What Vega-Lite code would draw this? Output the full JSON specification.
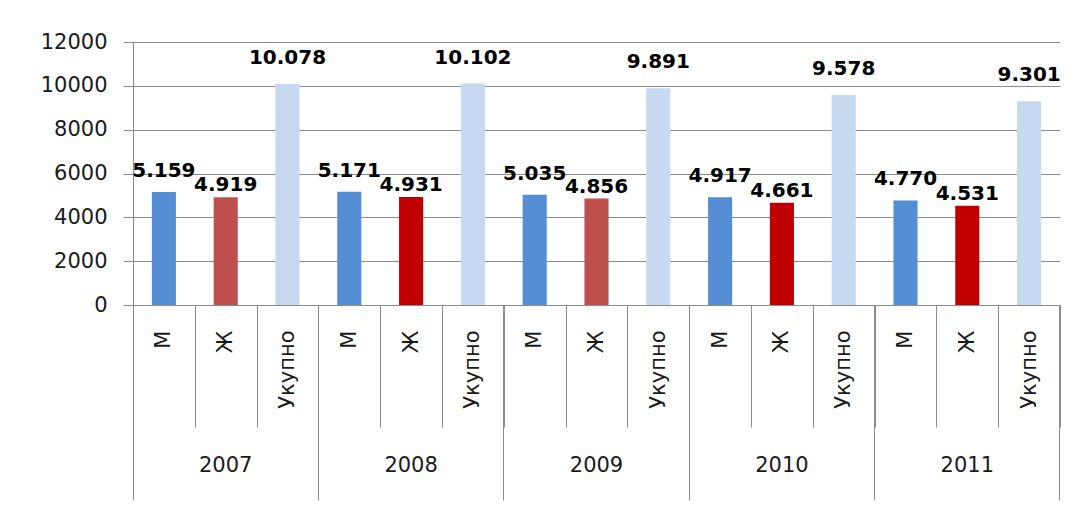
{
  "$schema": "https://vega.github.io/schema/vega-lite/v6.json",
  "width": 927,
  "height": 263,
  "autosize": {"type": "none"},
  "padding": {"left": 133, "top": 42, "right": 13, "bottom": 200},
  "background": "white",
  "config": {
    "view": {"stroke": null},
    "font": "DejaVu Sans",
    "locale": {"number": {"decimal": ",", "thousands": ".", "grouping": [3], "currency": ["", ""]}}
  },
  "data": {
    "values": [
      {"key": "2007|М", "year": "2007", "sex": "М", "value": 5159},
      {"key": "2007|Ж", "year": "2007", "sex": "Ж", "value": 4919},
      {"key": "2007|Укупно", "year": "2007", "sex": "Укупно", "value": 10078},
      {"key": "2008|М", "year": "2008", "sex": "М", "value": 5171},
      {"key": "2008|Ж", "year": "2008", "sex": "Ж", "value": 4931},
      {"key": "2008|Укупно", "year": "2008", "sex": "Укупно", "value": 10102},
      {"key": "2009|М", "year": "2009", "sex": "М", "value": 5035},
      {"key": "2009|Ж", "year": "2009", "sex": "Ж", "value": 4856},
      {"key": "2009|Укупно", "year": "2009", "sex": "Укупно", "value": 9891},
      {"key": "2010|М", "year": "2010", "sex": "М", "value": 4917},
      {"key": "2010|Ж", "year": "2010", "sex": "Ж", "value": 4661},
      {"key": "2010|Укупно", "year": "2010", "sex": "Укупно", "value": 9578},
      {"key": "2011|М", "year": "2011", "sex": "М", "value": 4770},
      {"key": "2011|Ж", "year": "2011", "sex": "Ж", "value": 4531},
      {"key": "2011|Укупно", "year": "2011", "sex": "Укупно", "value": 9301}
    ]
  },
  "resolve": {"axis": {"x": "independent", "y": "shared"}},
  "layer": [
    {
      "mark": {"type": "bar", "width": {"band": 0.39}},
      "encoding": {
        "x": {
          "field": "key", "type": "nominal",
          "scale": {
            "domain": ["2007|М","2007|Ж","2007|Укупно","2008|М","2008|Ж","2008|Укупно","2009|М","2009|Ж","2009|Укупно","2010|М","2010|Ж","2010|Укупно","2011|М","2011|Ж","2011|Укупно"],
            "paddingInner": 0, "paddingOuter": 0
          },
          "axis": {
            "orient": "bottom",
            "title": null,
            "labelExpr": "split(datum.value, '|')[1]",
            "labelAngle": 270,
            "labelAlign": "right",
            "labelBaseline": "middle",
            "labelFontSize": 21,
            "labelColor": "#1a1a1a",
            "labelPadding": -97,
            "tickBand": "extent",
            "tickSize": 122,
            "tickColor": "#8c8c8c",
            "domainColor": "#8c8c8c",
            "grid": false
          }
        },
        "y": {
          "field": "value", "type": "quantitative",
          "scale": {"domain": [0, 12000]},
          "axis": {
            "title": null,
            "values": [0, 2000, 4000, 6000, 8000, 10000, 12000],
            "format": "d",
            "labelFontSize": 21,
            "labelColor": "#1a1a1a",
            "labelPadding": 16,
            "tickSize": 10,
            "tickColor": "#8c8c8c",
            "domainColor": "#8c8c8c",
            "gridColor": "#8c8c8c",
            "grid": true
          }
        },
        "color": {
          "field": "key", "type": "nominal", "legend": null,
          "scale": {
            "domain": ["2007|М","2007|Ж","2007|Укупно","2008|М","2008|Ж","2008|Укупно","2009|М","2009|Ж","2009|Укупно","2010|М","2010|Ж","2010|Укупно","2011|М","2011|Ж","2011|Укупно"],
            "range": ["#558ED5","#C0504D","#C6D9F1","#558ED5","#C00000","#C6D9F1","#558ED5","#C0504D","#C6D9F1","#558ED5","#C00000","#C6D9F1","#558ED5","#C00000","#C6D9F1"]
          }
        }
      }
    },
    {
      "transform": [{"filter": "datum.sex === 'М'"}],
      "mark": {"type": "text", "fontWeight": "bold", "fontSize": 20, "baseline": "alphabetic", "dy": -15, "color": "#000000"},
      "encoding": {
        "x": {
          "field": "key", "type": "nominal",
          "axis": {
            "orient": "bottom",
            "title": null, "labels": false, "domain": false, "grid": false,
            "values": ["2007|М","2008|М","2009|М","2010|М","2011|М"],
            "bandPosition": 0, "tickExtra": false,
            "tickSize": 195, "tickColor": "#8c8c8c"
          }
        },
        "y": {"field": "value", "type": "quantitative"},
        "text": {"field": "value", "type": "quantitative", "format": ",d"}
      }
    },
    {
      "transform": [{"filter": "datum.sex === 'Ж'"}],
      "mark": {"type": "text", "fontWeight": "bold", "fontSize": 20, "baseline": "alphabetic", "dy": -6, "color": "#000000"},
      "encoding": {
        "x": {
          "field": "key", "type": "nominal",
          "axis": {
            "orient": "bottom",
            "title": null, "labels": false, "domain": false, "grid": false,
            "values": ["2011|Укупно"],
            "bandPosition": 1, "tickExtra": false,
            "tickSize": 195, "tickColor": "#8c8c8c"
          }
        },
        "y": {"field": "value", "type": "quantitative"},
        "text": {"field": "value", "type": "quantitative", "format": ",d"}
      }
    },
    {
      "transform": [{"filter": "datum.sex === 'Укупно'"}],
      "mark": {"type": "text", "fontWeight": "bold", "fontSize": 20, "baseline": "alphabetic", "dy": -20, "color": "#000000"},
      "encoding": {
        "x": {
          "field": "key", "type": "nominal",
          "axis": {
            "orient": "bottom",
            "title": null, "ticks": false, "domain": false, "grid": false,
            "values": ["2007|Ж","2008|Ж","2009|Ж","2010|Ж","2011|Ж"],
            "labelExpr": "split(datum.value, '|')[0]",
            "labelAngle": 0,
            "labelAlign": "center",
            "labelBaseline": "top",
            "labelFontSize": 21,
            "labelColor": "#1a1a1a",
            "labelPadding": 149
          }
        },
        "y": {"field": "value", "type": "quantitative"},
        "text": {"field": "value", "type": "quantitative", "format": ",d"}
      }
    }
  ]
}
